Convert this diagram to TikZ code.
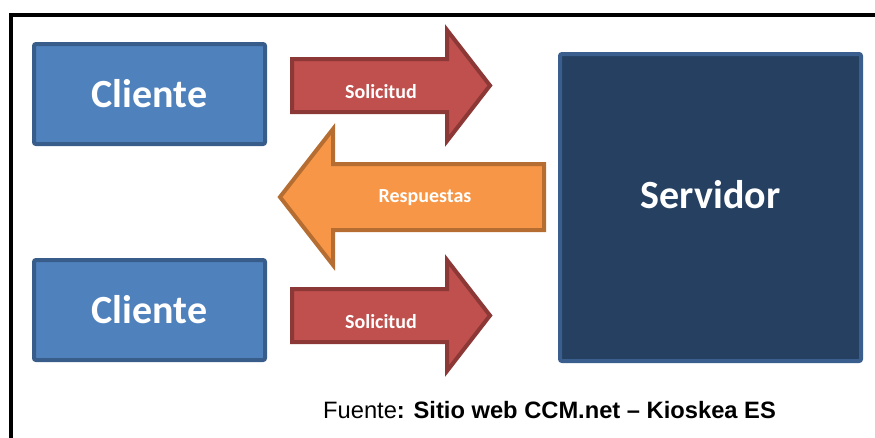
\documentclass[tikz,border=0pt]{standalone}
\usepackage{fontspec}
\setmainfont{Liberation Sans}
\newfontfamily\calibri{Carlito}
\definecolor{clientefill}{HTML}{4F81BD}
\definecolor{clienteborde}{HTML}{385D8A}
\definecolor{servidorfill}{HTML}{254061}
\definecolor{servidorborde}{HTML}{3A5F8F}
\definecolor{solfill}{HTML}{C0504D}
\definecolor{solborde}{HTML}{8C3836}
\definecolor{respfill}{HTML}{F79646}
\definecolor{respborde}{HTML}{B66D31}
\begin{document}
\begin{tikzpicture}[
	x=1pt,y=-1pt,
	line join=miter,
	caja/.style={rounded corners=2pt,line width=4pt},
	flecha/.style={line width=4pt},
	grande/.style={font=\calibri\bfseries\fontsize{40}{48}\selectfont,text=white,inner sep=0pt,anchor=base},
	chica/.style={font=\calibri\bfseries\fontsize{20}{24}\selectfont,text=white,inner sep=0pt,anchor=base}
	]
	\useasboundingbox (0,0) rectangle (875,437);
	\clip (0,0) rectangle (875,437);
	% marco
	\draw[line width=4pt] (10.5,445) -- (10.5,14.5) -- (885,14.5);
	% clientes y servidor
	\draw[caja,fill=clientefill,draw=clienteborde] (34,44) rectangle (265,144);
	\draw[caja,fill=clientefill,draw=clienteborde] (34,260) rectangle (265,360);
	\draw[caja,fill=servidorfill,draw=servidorborde] (560,54) rectangle (861,361);
	\node[grande] (cliente1) at (149.5,107) {Cliente};
	\node[grande] (cliente2) at (149.5,323) {Cliente};
	\node[grande] (servidor) at (710.5,208) {Servidor};
	% flechas
	\foreach \dy/\nombre in {0/sol1,230/sol2}{
		\draw[flecha,fill=solfill,draw=solborde] (292,59+\dy) -- (447,59+\dy) -- (447,30+\dy) -- (490,85.5+\dy)
			-- (447,141+\dy) -- (447,112+\dy) -- (292,112+\dy) -- cycle;
		\node[chica] (\nombre) at (381,98+\dy) {Solicitud};
	}
	\draw[flecha,fill=respfill,draw=respborde] (544,164) -- (333,164) -- (333,129) -- (280,197)
		-- (333,265) -- (333,230) -- (544,230) -- cycle;
	\node[chica] (resp) at (425,202) {Respuestas};
	% fuente
	\node[anchor=base west,inner sep=0pt,font=\fontsize{23.7}{28}\selectfont] (fuente) at (323,418)
		{Fuente\textbf{: Sitio web CCM.net – Kioskea ES}};
\end{tikzpicture}
\end{document}
